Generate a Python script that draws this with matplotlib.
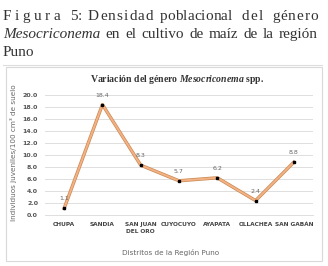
import matplotlib.pyplot as plt
from matplotlib.patches import Rectangle
from matplotlib.lines import Line2D

# data
districts = ["CHUPA", "SANDIA", "SAN JUAN\nDEL ORO", "CUYOCUYO", "AYAPATA", "OLLACHEA", "SAN GABÁN"]
density = [1.1, 18.4, 8.3, 5.7, 6.2, 2.4, 8.8]
yticks = [0, 2, 4, 6, 8, 10, 12, 14, 16, 18, 20]

plt.rcParams["mathtext.fontset"] = "custom"
plt.rcParams["mathtext.it"] = "Liberation Serif:italic:bold"
plt.rcParams["mathtext.rm"] = "Liberation Serif:bold"

W, H = 328, 266
fig = plt.figure(figsize=(W / 100, H / 100), dpi=100)
fig.patch.set_facecolor("white")
serif = "Liberation Serif"
FS = 11


def fx(px):
    return px / W


def fy(py):
    return 1 - py / H


renderer = fig.canvas.get_renderer()


def text_width(s, **kw):
    if not s:
        return 0.0
    t = fig.text(0, 0, s, **kw)
    w = t.get_window_extent(renderer).width
    t.remove()
    return w


# caption, first line is letter-spaced and justified
line1 = [("Figura", 3, 60), ("5:", 70, 82), ("Densidad", 88, 153),
         ("poblacional", 160, 232), ("del", 242, 263), ("género", 272, 318)]
for word, x0, x1 in line1:
    kw = dict(fontsize=FS, family=serif)
    extra = (x1 - x0 - text_width(word, **kw)) / max(len(word) - 1, 1)
    for i, ch in enumerate(word):
        xc = x0 + text_width(word[:i], **kw) + i * extra
        fig.text(fx(xc), fy(20), ch, color="#333333", va="baseline", **kw)

# second line, justified between 3 and 318 px
line2 = [("Mesocriconema", "italic"), ("en", "normal"), ("el", "normal"), ("cultivo", "normal"),
         ("de", "normal"), ("maíz", "normal"), ("de", "normal"), ("la", "normal"),
         ("región", "normal")]
widths = [text_width(w, fontsize=FS, family=serif, style=st) for w, st in line2]
gap = (318 - 3 - sum(widths)) / (len(line2) - 1)
xc = 3
for (word, st), w in zip(line2, widths):
    fig.text(fx(xc), fy(38), word, fontsize=FS, family=serif, style=st,
             color="#333333", va="baseline")
    xc += w + gap
fig.text(fx(3), fy(56), "Puno", fontsize=FS, family=serif, color="#333333", va="baseline")

fig.add_artist(Line2D([fx(3), fx(322)], [fy(65), fy(65)], color="#dddddd", lw=0.8))
fig.add_artist(Rectangle((fx(6), fy(261)), fx(316), 194 / H, fill=False,
                         edgecolor="#d9d9d9", lw=0.8))

# chart
ax = fig.add_axes([fx(45), fy(215), fx(268), 120 / H])
x = range(len(districts))
ax.plot(x, density, color="#c98a55", lw=2.4, zorder=2)
ax.plot(x, density, color="#f4b183", lw=1.4, zorder=3)
ax.plot(x, density, "s", color="black", ms=2, zorder=4)
for xi, v in zip(x, density):
    ax.annotate(f"{v:.1f}", (xi, v), xytext=(0, 5), textcoords="offset points",
                ha="center", va="bottom", fontsize=4.5, color="#666666")

ax.set_xlim(-0.5, 6.5)
ax.set_ylim(0, 20)
ax.set_yticks(yticks)
ax.set_yticklabels([f"{v:.1f}" for v in yticks], fontsize=4.5, color="#555555", fontweight="bold")
ax.set_xticks(list(x))
ax.set_xticklabels(districts, fontsize=4.2, color="#444444", fontweight="bold", linespacing=1.6)
ax.tick_params(length=0, pad=5)
ax.grid(axis="y", color="#d9d9d9", lw=0.6)
ax.set_axisbelow(True)
for s in ax.spines.values():
    s.set_visible(False)
ax.spines["bottom"].set_visible(True)
ax.spines["bottom"].set_color("#d9d9d9")
ax.spines["bottom"].set_linewidth(0.6)

fig.text(fx(177), fy(80), "Variación del género $Mesocriconema$ spp.", ha="center", va="center",
         fontsize=7, family=serif, fontweight="bold", color="#333333")
fig.text(fx(14), fy(153), "Individuos juveniles/100 cm³ de suelo", rotation=90, ha="center",
         va="center", fontsize=5.2, color="#666666")
fig.text(fx(171), fy(252), "Distritos de la Región Puno", ha="center", va="center",
         fontsize=5.2, color="#666666")

fig.savefig("out.png", dpi=100)
